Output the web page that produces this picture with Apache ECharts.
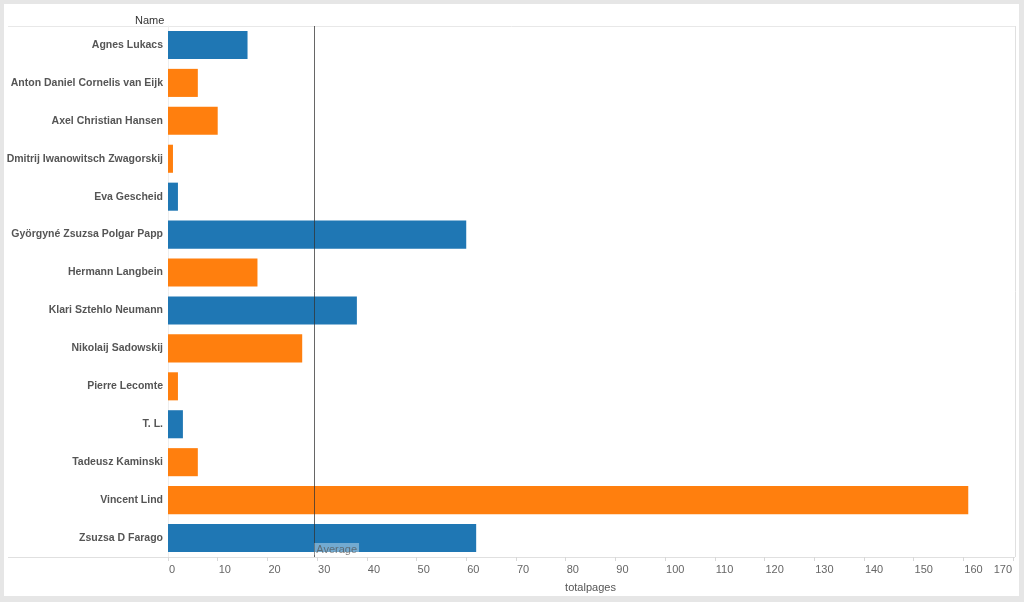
<!DOCTYPE html>
<html>
<head>
<meta charset="utf-8">
<script src="https://cdn.jsdelivr.net/npm/echarts@6/dist/echarts.min.js"></script>
<style>
  html, body { margin: 0; padding: 0; background: #e6e6e6; }
  #main { width: 1024px; height: 602px; }
</style>
</head>
<body>
<div id="main"></div>
<script>
// data
var names = [
  "Agnes Lukacs", "Anton Daniel Cornelis van Eijk", "Axel Christian Hansen",
  "Dmitrij Iwanowitsch Zwagorskij", "Eva Gescheid", "Györgyné Zsuzsa Polgar Papp",
  "Hermann Langbein", "Klari Sztehlo Neumann", "Nikolaij Sadowskij",
  "Pierre Lecomte", "T. L.", "Tadeusz Kaminski", "Vincent Lind", "Zsuzsa D Farago"
];
var totalpages = [16, 6, 10, 1, 2, 60, 18, 38, 27, 2, 3, 6, 161, 62];
// colour group per bar (0 = blue, 1 = orange)
var group = [0, 1, 1, 1, 0, 0, 1, 0, 1, 1, 0, 1, 1, 0];
var groupColors = ["#1f77b4", "#ff7f0e"];

var chart = echarts.init(document.getElementById("main"));

var barData = totalpages.map(function (v, i) {
  return { value: v, itemStyle: { color: groupColors[group[i]] } };
});

chart.setOption({
  backgroundColor: "#e6e6e6",
  textStyle: { fontFamily: "Liberation Sans, Arial, sans-serif" },
  animation: false,
  grid: { left: 168, right: 11, top: 26, bottom: 45, outerBoundsMode: "none", containLabel: false },
  graphic: [
    // white panel
    { type: "rect", z: -10, shape: { x: 4, y: 4, width: 1015, height: 592 }, style: { fill: "#fff" } },
    // header + footer separators, right border
    { type: "line", shape: { x1: 8, y1: 26.5, x2: 1015, y2: 26.5 }, style: { stroke: "#e8e8e8", lineWidth: 1 } },
    { type: "line", shape: { x1: 8, y1: 557.5, x2: 1015, y2: 557.5 }, style: { stroke: "#e0e0e0", lineWidth: 1 } },
    { type: "line", shape: { x1: 1015.5, y1: 26, x2: 1015.5, y2: 557 }, style: { stroke: "#e0e0e0", lineWidth: 1 } },
    { type: "text", left: 135, top: 15, style: { text: "Name", fill: "#333", fontSize: 11, fontFamily: "Liberation Sans, Arial, sans-serif" } }
  ],
  xAxis: {
    type: "value",
    min: 0,
    max: 170,
    interval: 10,
    name: "totalpages",
    nameLocation: "middle",
    nameGap: 25,
    nameTextStyle: { color: "#555", fontSize: 11 },
    axisLine: { show: true, lineStyle: { color: "#e0e0e0" } },
    axisTick: { show: true, length: 4, lineStyle: { color: "#d8d8d8" } },
    axisLabel: { color: "#666", fontSize: 11, align: "left", alignMaxLabel: "right", margin: 7, padding: [0, 1, 0, 1] },
    splitLine: { show: false }
  },
  yAxis: {
    type: "category",
    inverse: true,
    data: names,
    axisLine: { show: true, lineStyle: { color: "#eeeeee" } },
    axisTick: { show: false },
    axisLabel: { color: "#555", fontSize: 10.5, fontWeight: "bold", margin: 5 }
  },
  series: [
    {
      type: "bar",
      data: barData,
      barCategoryGap: "26%",
      markLine: {
        symbol: "none",
        silent: true,
        data: [{ type: "average", name: "Average" }],
        lineStyle: { color: "#333", width: 1, type: "solid", opacity: 0.75 },
        label: {
          show: true,
          position: "end",
          formatter: "Average",
          color: "#555",
          fontSize: 11,
          align: "left",
          verticalAlign: "bottom",
          distance: [0, -2],
          backgroundColor: "rgba(255,255,255,0.5)",
          padding: [1, 2, 0, 2]
        }
      }
    }
  ]
});
</script>
</body>
</html>
